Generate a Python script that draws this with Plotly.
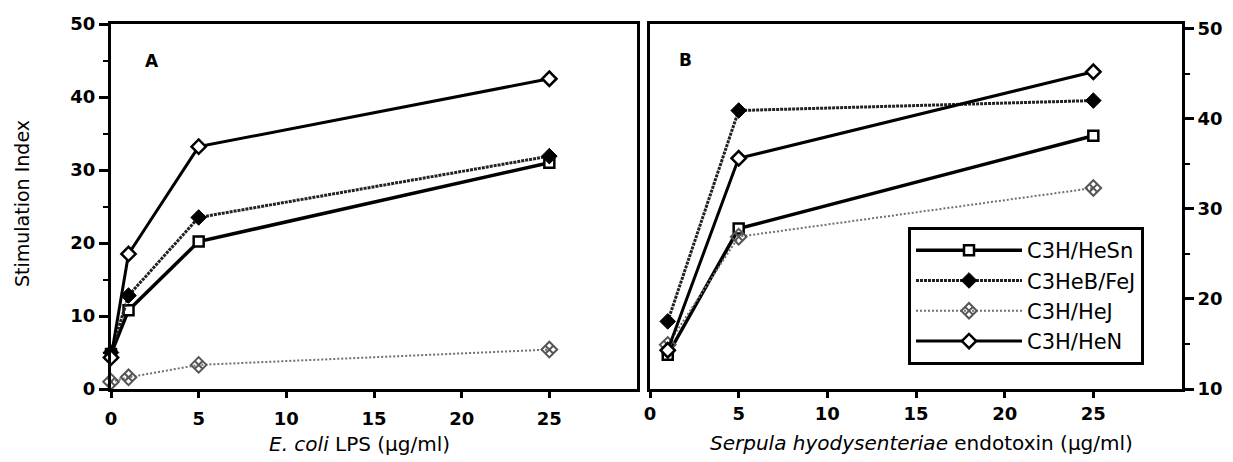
import plotly.graph_objects as go

# ---- data ----
strains = ["C3H/HeSn", "C3HeB/FeJ", "C3H/HeJ", "C3H/HeN"]
x_lps = [0, 1, 5, 25]
x_endo = [1, 5, 25]
lps_vals = {
    "C3H/HeSn": [4.8, 10.8, 20.2, 31.0],
    "C3HeB/FeJ": [5.0, 12.8, 23.5, 31.9],
    "C3H/HeJ": [1.0, 1.6, 3.3, 5.4],
    "C3H/HeN": [4.3, 18.5, 33.2, 42.5],
}
endo_vals = {
    "C3H/HeSn": [13.8, 27.8, 38.1],
    "C3HeB/FeJ": [17.5, 40.9, 42.0],
    "C3H/HeJ": [14.9, 26.9, 32.3],
    "C3H/HeN": [14.3, 35.6, 45.2],
}
x_ticks = [0, 5, 10, 15, 20, 25]

styles = {
    "C3H/HeSn": dict(line=dict(color="black", width=3.5),
                     marker=dict(symbol="square", size=10, color="white",
                                 line=dict(color="black", width=2.5))),
    "C3HeB/FeJ": dict(line=dict(color="#222222", width=3, dash="3px,1px"),
                      marker=dict(symbol="diamond", size=12, color="black",
                                  line=dict(color="black", width=1))),
    "C3H/HeJ": dict(line=dict(color="#707070", width=2, dash="2px,2px"),
                    marker=dict(symbol="diamond-x-open", size=12, color="#555555",
                                line=dict(color="#555555", width=2))),
    "C3H/HeN": dict(line=dict(color="black", width=3),
                    marker=dict(symbol="diamond", size=11, color="white",
                                line=dict(color="black", width=2.5))),
}

FONT = "DejaVu Sans"
W, H = 1233, 462

fig = go.Figure()
for s in strains:
    fig.add_trace(go.Scatter(x=x_lps, y=lps_vals[s], mode="lines+markers", name=s,
                             legendgroup=s, showlegend=False, cliponaxis=False,
                             xaxis="x", yaxis="y", **styles[s]))
for s in strains:
    fig.add_trace(go.Scatter(x=x_endo, y=endo_vals[s], mode="lines+markers", name=s,
                             legendgroup=s, showlegend=True, cliponaxis=False,
                             xaxis="x2", yaxis="y2", **styles[s]))

tickfont = dict(family=FONT, size=18, color="black", weight="bold")
common_x = dict(range=[0, 30], tickvals=x_ticks, ticks="outside", ticklen=6, tickwidth=2.5,
                tickcolor="black", showline=True, linewidth=3, linecolor="black",
                mirror=True, showgrid=False, zeroline=False, tickfont=tickfont,
                automargin=False)
common_y = dict(dtick=10, ticks="outside", ticklen=9, tickwidth=2.5, tickcolor="black",
                showline=True, linewidth=3, linecolor="black", mirror=True,
                showgrid=False, zeroline=False, tickfont=tickfont, automargin=False,
                minor=dict(dtick=5, ticks="outside", ticklen=5, tickwidth=2, tickcolor="black",
                           showgrid=False))

ydom = [1 - 389 / H, 1 - 24 / H]
fig.update_layout(
    width=W, height=H, margin=dict(l=0, r=0, t=0, b=0, autoexpand=False),
    paper_bgcolor="white", plot_bgcolor="white",
    font=dict(family=FONT, color="black"),
    xaxis=dict(domain=[111 / W, 637 / W], anchor="y", ticklabelstandoff=5, **common_x),
    yaxis=dict(domain=ydom, anchor="x", range=[0, 50], tick0=0, **common_y),
    xaxis2=dict(domain=[650 / W, 1182 / W], anchor="y2", ticklabelstandoff=0, **common_x),
    yaxis2=dict(domain=ydom, anchor="x2", side="right", range=[10, 50.5], tick0=10, **common_y),
    legend=dict(x=908 / W, y=1 - 227 / H, xanchor="left", yanchor="top",
                bordercolor="black", borderwidth=3, bgcolor="white",
                font=dict(family=FONT, size=21, color="black"),
                itemwidth=106, tracegroupgap=0),
    annotations=[
        dict(text="A", x=152 / W, y=1 - 61 / H, xref="paper", yref="paper", showarrow=False,
             xanchor="center", yanchor="middle",
             font=dict(family=FONT, size=17, weight="bold")),
        dict(text="B", x=685 / W, y=1 - 60 / H, xref="paper", yref="paper", showarrow=False,
             xanchor="center", yanchor="middle",
             font=dict(family=FONT, size=17, weight="bold")),
        dict(text="Stimulation Index", x=22 / W, y=1 - 204 / H, xref="paper", yref="paper",
             showarrow=False, textangle=-90, xanchor="center", yanchor="middle",
             font=dict(family=FONT, size=19)),
        dict(text="<i>E. coli</i> LPS (µg/ml)", x=360 / W, y=1 - 444 / H, xref="paper",
             yref="paper", showarrow=False, xanchor="center", yanchor="middle",
             font=dict(family=FONT, size=20)),
        dict(text="<i>Serpula hyodysenteriae</i> endotoxin (µg/ml)", x=921 / W, y=1 - 443 / H,
             xref="paper", yref="paper", showarrow=False, xanchor="center", yanchor="middle",
             font=dict(family=FONT, size=20)),
    ],
)

fig.write_html("out.html")
